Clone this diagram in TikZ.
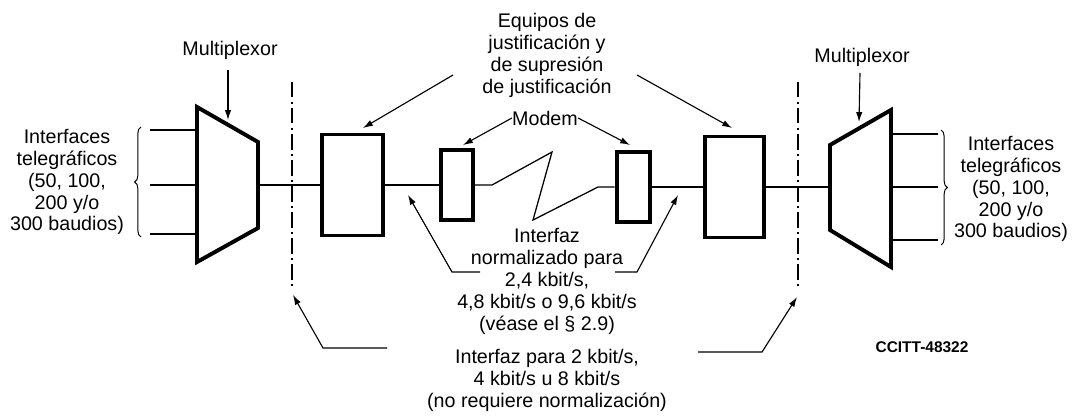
\documentclass[tikz,border=0pt]{standalone}
\usepackage{fontspec}
\setmainfont{Liberation Sans}
\usetikzlibrary{positioning}
\usetikzlibrary{arrows.meta}
\usetikzlibrary{decorations.pathreplacing}
\usetikzlibrary{math}

\begin{document}
\begin{tikzpicture}[x=0.025cm, y=-0.025cm,
    >={Latex[length=7pt,width=4.5pt]},
    txt/.style={font=\fontsize{14}{15.6}\selectfont, align=center, inner sep=0pt},
    block/.style={draw, line width=2.8pt, inner sep=0pt},
    modem/.style={block, minimum width=0.78cm, minimum height=1.75cm},
    mux/.style={line width=2.8pt, line join=miter},
    wire/.style={line width=0.9pt},
    leader/.style={line width=0.8pt, ->},
    border/.style={line width=0.9pt, dash pattern=on 11pt off 3pt on 1.5pt off 3pt},
    bracket/.style={line width=0.7pt, decorate, decoration={brace, amplitude=4.5pt}}]
      \tikzmath{
        \yL = 185;
        \yR = 187;
      }
      \useasboundingbox (0,0) rectangle (1077,416);

      % multiplexors
      \draw[mux] (197,107) -- (258,142) -- (258,228) -- (197,262) -- cycle;
      \draw[mux] (830,145) -- (891,110) -- (891,267) -- (830,230) -- cycle;
      \coordinate (M1) at (258,\yL);
      \coordinate (M2) at (830,\yR);

      \foreach \y [count=\i] in {130,185,234} {
        \coordinate (in\i) at (197,\y);
        \draw[wire] (in\i) -- ++(-47,0);
      }
      \foreach \y [count=\i] in {134,187,240} {
        \coordinate (out\i) at (891,\y);
        \draw[wire] (out\i) -- ++(47,0);
      }

      % boxes
      \node[block, minimum width=1.525cm, minimum height=2.525cm] (J1) at (352.5,\yL) {};
      \node[block, minimum width=1.475cm, minimum height=2.525cm] (J2) at (734.5,\yR) {};
      \node[modem] (D1) at (457,\yL) {};
      \node[modem, minimum width=0.84cm] (D2) at (633.5,\yR) {};

      \coordinate (z1) at (492,\yL);
      \coordinate (z2) at (552,152);
      \coordinate (z3) at (533,220);
      \coordinate (z4) at (598,\yR);

      \draw[wire] (M1) -- (J1.west);
      \draw[wire] (J1.east) -- (D1.west);
      \draw[wire] (D1.east) -- (z1) -- (z2) -- (z3) -- (z4) -- (D2.west);
      \draw[wire] (D2.east) -- (J2.west);
      \draw[wire] (J2.east) -- (M2);

      % interface borders
      \draw[border] (292,82) -- (292,290);
      \draw[border] (798,82) -- (798,290);

      % telegraph sides
      \draw[bracket] (141,237) -- (141,127);
      \draw[bracket] (941,130) -- (941,245);
      \node[txt] (telL) at (67,182) {Interfaces\\telegráficos\\(50, 100,\\200 y/o\\300 baudios)};
      \node[txt] (telR) at (1011,189) {Interfaces\\telegráficos\\(50, 100,\\200 y/o\\300 baudios)};

      % labels
      \node[txt] (muxL) at (230,50) {Multiplexor};
      \node[txt] (muxR) at (862,57) {Multiplexor};
      \node[txt] (equip) at (547,55) {Equipos de\\justificación y\\de supresión\\de justificación};
      \node[txt] (mdm) at (545,118) {Modem};
      \node[txt] (norm) at (547,281.5) {Interfaz\\normalizado para\\2,4 kbit/s,\\4,8 kbit/s o 9,6 kbit/s\\(véase el § 2.9)};
      \node[txt] (free) at (547,380) {Interfaz para 2 kbit/s,\\4 kbit/s u 8 kbit/s\\(no requiere normalización)};
      \node[txt, font=\bfseries\fontsize{11}{13}\selectfont] (code) at (922,347) {CCITT-48322};

      % arrows
      \coordinate (a1) at (228,120);
      \coordinate (a2) at (859,122);
      \draw[leader] (228,70) -- (a1);
      \draw[leader] (860,73) -- (a2);

      \coordinate (e1) at (363,128);
      \coordinate (e2) at (732,128);
      \draw[leader] (453,75) -- (e1);
      \draw[leader] (637,75) -- (e2);

      \coordinate (m1) at (463,145);
      \coordinate (m2) at (630,145);
      \draw[leader] (mdm.west) -- (m1);
      \draw[leader] (mdm.east) -- (m2);

      \coordinate (n1) at (408,195);
      \coordinate (n2) at (678,195);
      \draw[leader] (480,272) -- (452,272) -- (n1);
      \draw[leader] (615,272) -- (637,272) -- (n2);

      \coordinate (f1) at (293,295);
      \coordinate (f2) at (797,297);
      \draw[leader] (387,348) -- (323,348) -- (f1);
      \draw[leader] (698,352) -- (762,352) -- (f2);
    \end{tikzpicture}
\end{document}
